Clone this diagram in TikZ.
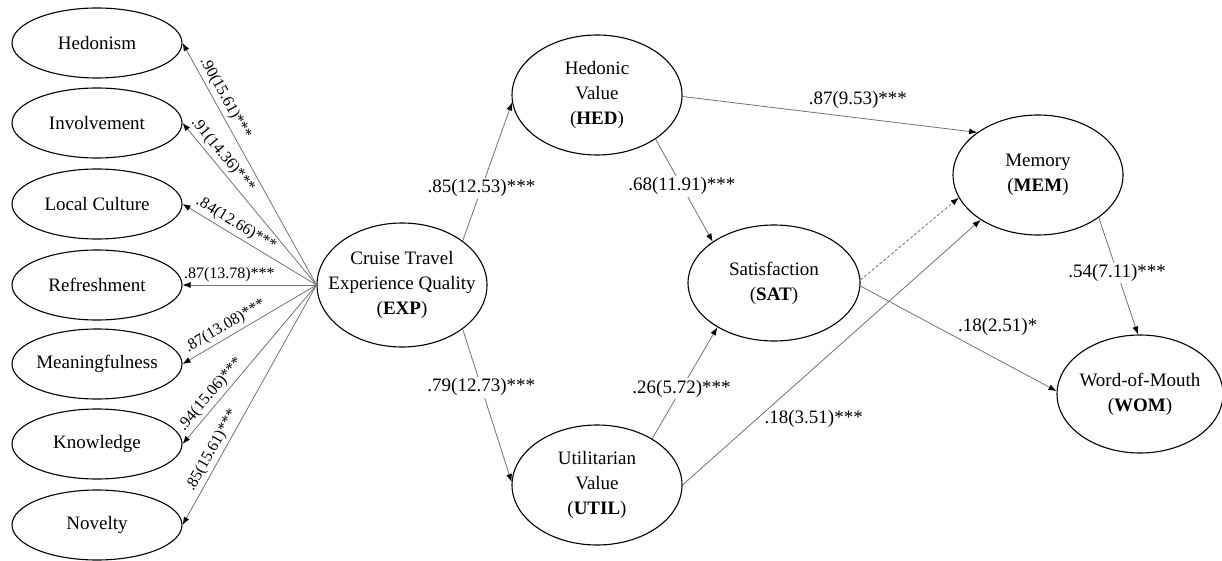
\documentclass[tikz,border=0pt]{standalone}
\usepackage{fontspec}
\setmainfont{Liberation Serif}
\usetikzlibrary{shapes.geometric,arrows.meta}
\begin{document}
\begin{tikzpicture}[x=1pt,y=-1pt,
  construct/.style={ellipse,draw=black,line width=1.1pt,inner xsep=-30pt,inner ysep=0pt,
    align=center,font=\fontsize{19}{25}\selectfont},
  indicator/.style={construct,minimum width=170pt,minimum height=70pt},
  latent/.style={construct,minimum width=170pt,minimum height=120pt},
  link/.style={draw=black!55,line width=0.8pt,-{Latex[length=8pt,width=6pt,color=black]}},
  coef/.style={font=\fontsize{19}{22}\selectfont,inner sep=1pt},
  coefbox/.style={coef,fill=white,inner sep=2pt},
  load/.style={font=\fontsize{16}{18}\selectfont,sloped,above=2pt,inner sep=1pt}]
\useasboundingbox (0,0) rectangle (1222,561);

% first-order dimensions of experience quality
\node[indicator] (hedo) at (97,43)  {Hedonism};
\node[indicator] (invo) at (97,123) {Involvement};
\node[indicator] (locc) at (97,204) {Local Culture};
\node[indicator] (refr) at (97,285) {Refreshment};
\node[indicator] (mean) at (97,364) {Meaningfulness};
\node[indicator] (know) at (97,444) {Knowledge};
\node[indicator] (nove) at (97,525) {Novelty};

% structural constructs
\node[latent,minimum height=124pt] (exp) at (402,285) {Cruise Travel\\Experience Quality\\(\textbf{EXP})};
\node[latent] (hed) at (597,95)  {Hedonic\\Value\\(\textbf{HED})};
\node[latent] (util) at (597,485) {Utilitarian\\Value\\(\textbf{UTIL})};
\node[latent,minimum width=172pt,minimum height=116pt] (sat) at (774,283) {Satisfaction\\(\textbf{SAT})};
\node[latent] (mem) at (1038,175) {Memory\\(\textbf{MEM})};
\node[latent,minimum width=166pt,minimum height=118pt] (wom) at (1140,394) {Word-of-Mouth\\(\textbf{WOM})};

% factor loadings
\draw[link] (exp.180) -- node[load,pos=0.75] {.90(15.61)***} (hedo.east);
\draw[link] (exp.180) -- node[load,pos=0.76] {.91(14.36)***} (invo.east);
\draw[link] (exp.180) -- node[load,pos=0.64] {.84(12.66)***} (locc.east);
\draw[link] (exp.180) -- node[load,pos=0.65] {.87(13.78)***} (refr.east);
\draw[link] (exp.180) -- node[load,pos=0.64] {.87(13.08)***} (mean.east);
\draw[link] (exp.180) -- node[load,pos=0.73] {.94(15.06)***} (know.east);
\draw[link] (exp.180) -- node[load,pos=0.71] {.85(15.61)***} (nove.east);

% structural paths
\draw[link] (exp.36)  -- node[coefbox,pos=0.38] {.85(12.53)***} (hed.185);
\draw[link] (exp.-36) -- node[coefbox,pos=0.38] {.79(12.73)***} (util.178);
\draw[link] (hed.-37) -- node[coefbox,pos=0.46] {.68(11.91)***} (sat.146);
\draw[link] (util.40) -- node[coefbox,pos=0.45] {.26(5.72)***} (sat.218);
\draw[link] (hed.-1)  -- node[coef,pos=0.595,yshift=18pt] {.87(9.53)***} (mem.145);
\draw[link] (util.0)  -- node[coef,pos=0.44,yshift=-51pt] {.18(3.51)***} (mem.218);
\draw[link,dash pattern=on 3pt off 2pt] (sat.2) -- (mem.196);
\draw[link] (sat.-2)  -- node[coef,pos=0.7,yshift=33pt] {.18(2.51)*} (wom.178);
\draw[link] (mem.-35) -- node[coefbox,pos=0.47] {.54(7.11)***} (wom.92);
\end{tikzpicture}
\end{document}
